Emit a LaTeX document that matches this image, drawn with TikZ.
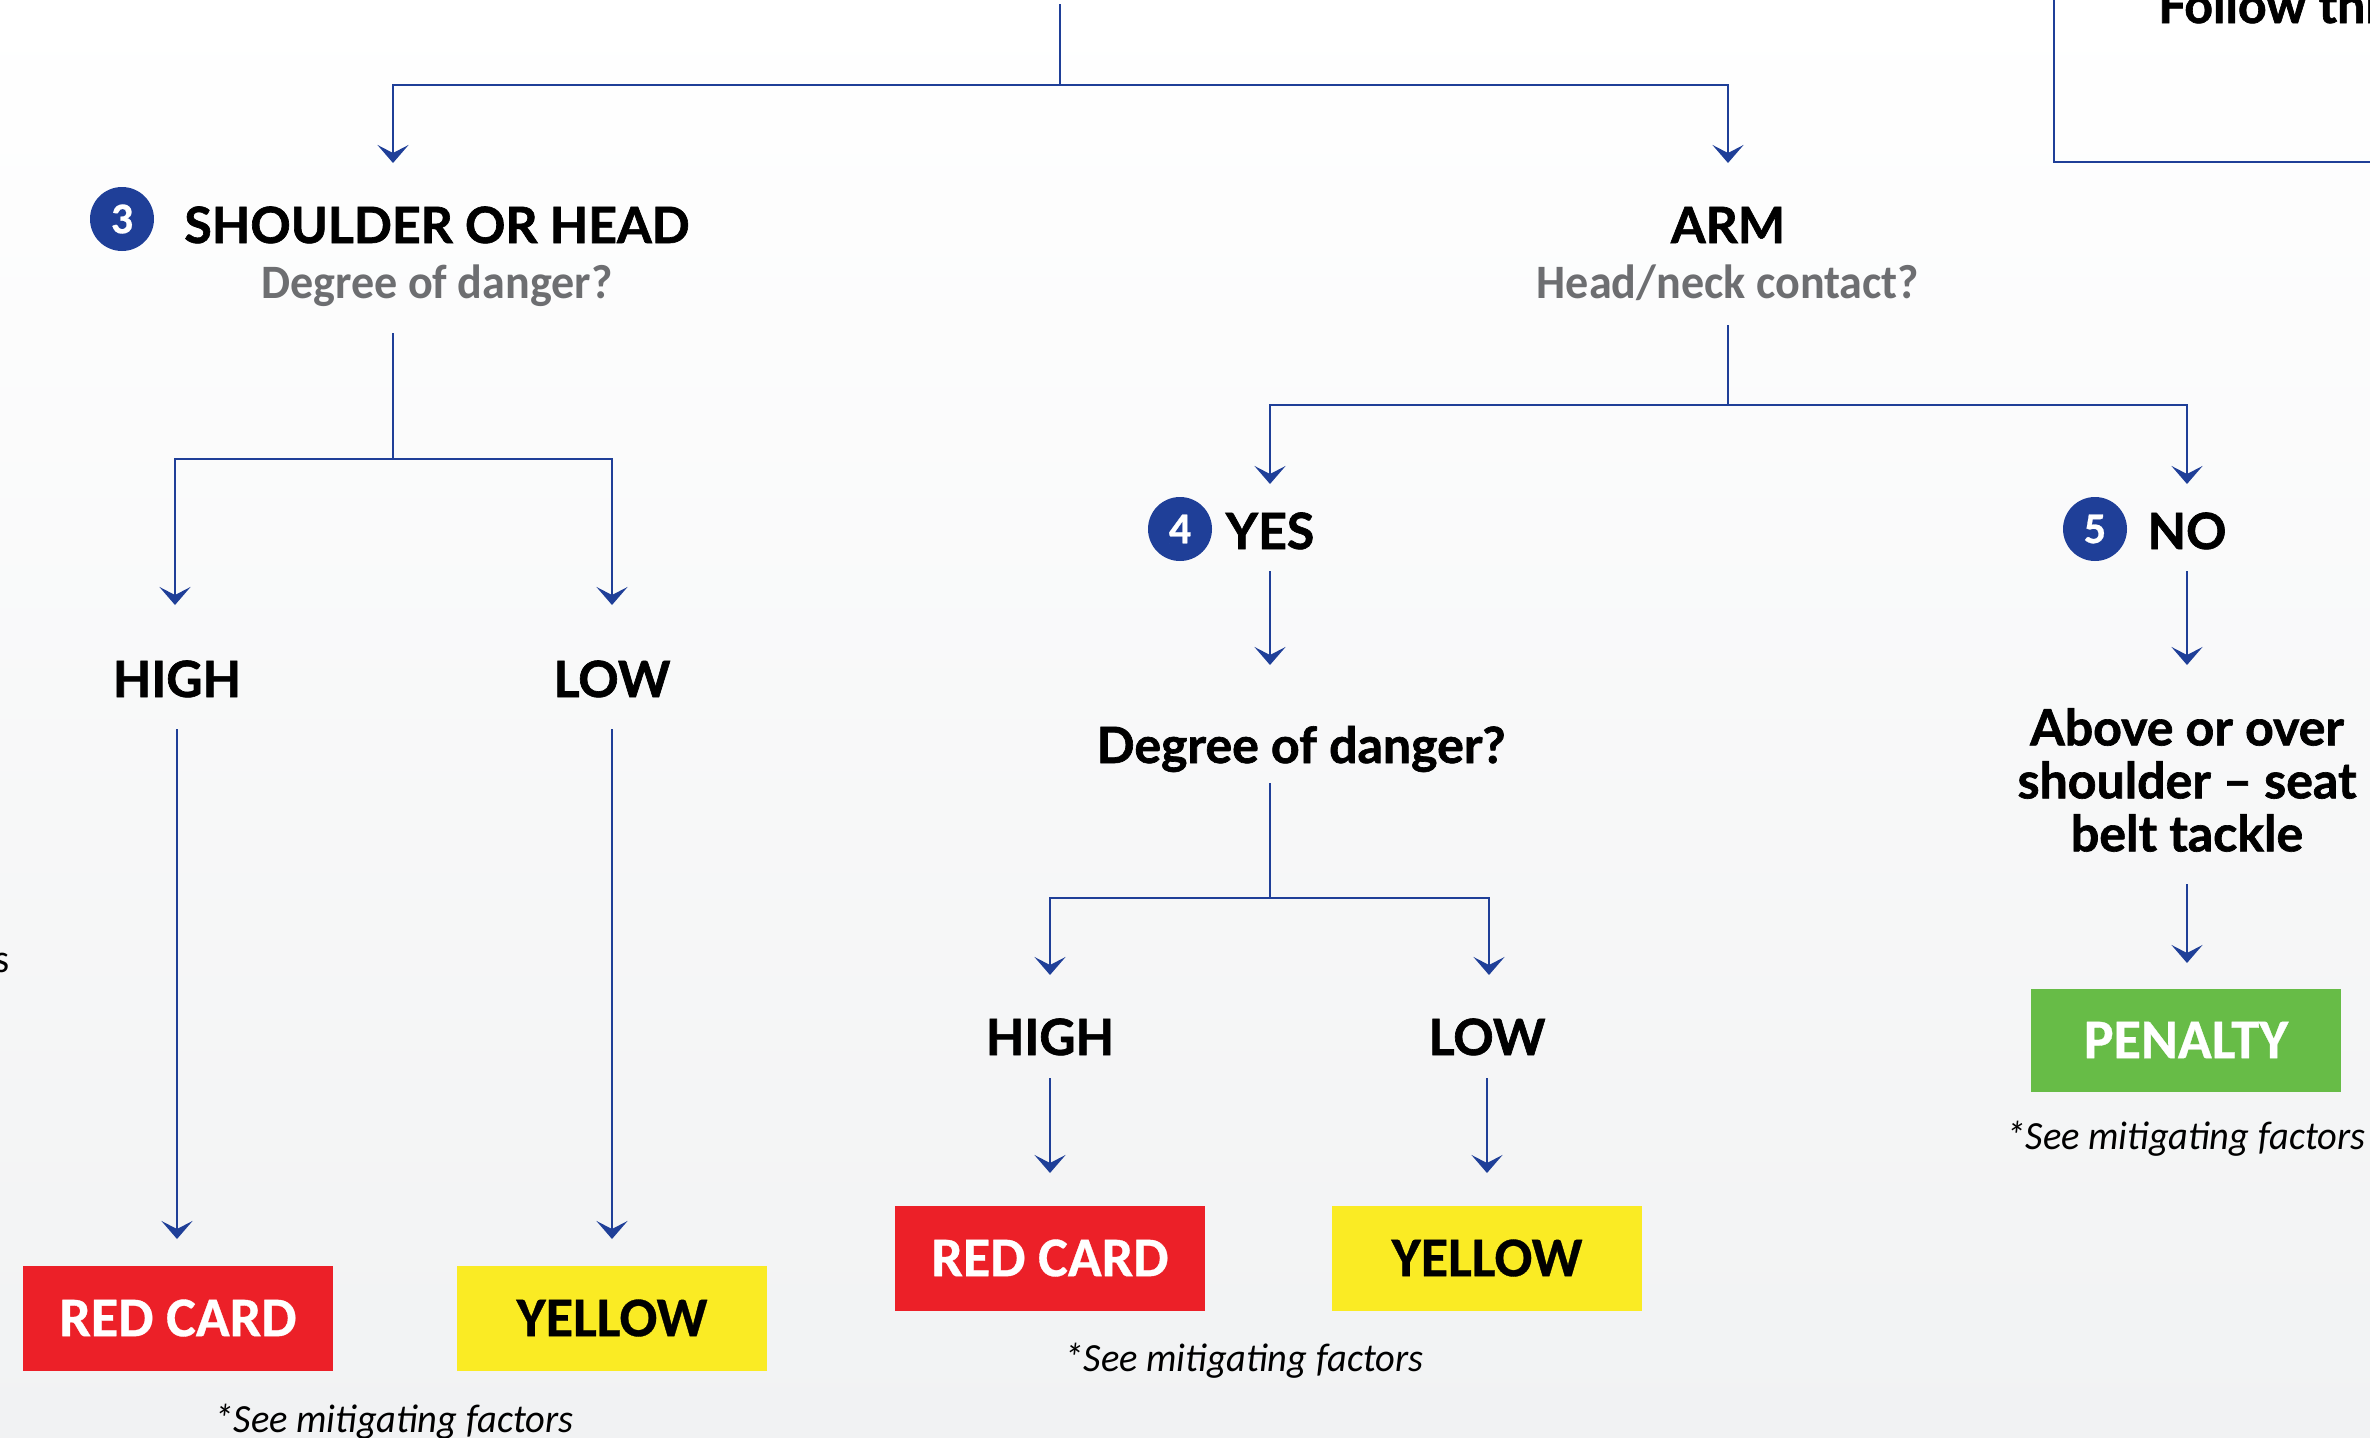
\documentclass[tikz,border=0pt]{standalone}
\usepackage{fontspec}
\setmainfont{Lato}
\newfontfamily\heavyfont{Lato}[BoldFeatures={FakeBold=1.3}]
\newfontfamily\condfont{Carlito}[FakeStretch=0.96]
\newfontfamily\cardfont{Carlito}[BoldFeatures={FakeBold=0.6}]
\usetikzlibrary{arrows.meta,calc}
\definecolor{rblue}{HTML}{1F3F98}
\definecolor{rred}{HTML}{EC2028}
\definecolor{ryellow}{HTML}{FAEB24}
\definecolor{rgreen}{HTML}{67BC47}
\definecolor{rgray}{HTML}{6D6E71}
\definecolor{bglow}{HTML}{F1F2F3}
\tikzset{
  conn/.style={draw=rblue, line width=2.8pt},
  arr/.style={conn, -{Stealth[length=18pt,width=31pt,inset=8pt]}},
  head/.style={font=\heavyfont\fontsize{50}{50}\selectfont\bfseries, text=black, inner sep=0pt, text height=36pt, text depth=0pt},
  sub/.style={font=\condfont\fontsize{48}{48}\selectfont\bfseries, text=rgray, inner sep=0pt, text height=34pt, text depth=0pt},
  badge/.style={circle, fill=rblue, minimum size=64pt, inner sep=0pt, text=white, font=\cardfont\fontsize{44}{44}\selectfont\bfseries},
  card/.style={minimum width=310pt, minimum height=105pt, inner sep=0pt, font=\cardfont\fontsize{56}{56}\selectfont\bfseries},
  note/.style={font=\condfont\fontsize{40}{40}\selectfont\itshape, inner sep=0pt, text height=28pt, text depth=0pt},
}
\begin{document}
\begin{tikzpicture}[x=1pt,y=-1pt]
\useasboundingbox (0,0) rectangle (2370,1438);
\clip (0,0) rectangle (2370,1438);
\shade[top color=white, bottom color=bglow] (0,0) rectangle (2370,1438);

% top-right box (cut by the picture's edge)
\draw[conn] (2054,-50) -- (2054,162) -- (2450,162);
\node[head, anchor=base west] (follow) at (2158,23) {Follow through};
% text fragment at the left edge
\node[font=\condfont\fontsize{40}{40}\selectfont, inner sep=0pt, anchor=base east] (sfrag) at (10,972) {s};

\coordinate (src) at (1060,4);
\coordinate (j0) at (1060,85);
\coordinate (tipS) at (393,163);
\coordinate (tipA) at (1728,163);
\draw[conn] (src) -- (j0);
\draw[arr] (j0) -| (tipS);
\draw[arr] (j0) -| (tipA);

% ---------- shoulder or head branch
\node[badge] (b3) at (122,219) {3};
\node[head] (shoulder) at (437,225) {SHOULDER OR HEAD};
\node[sub] (dd1) at (437,281) {Degree of danger?};
\coordinate (s1) at (393,333);
\coordinate (jL) at (393,459);
\coordinate (tipHL) at (175,605);
\coordinate (tipLL) at (612,605);
\draw[conn] (s1) -- (jL);
\draw[arr] (jL) -| (tipHL);
\draw[arr] (jL) -| (tipLL);
\node[head] (highL) at (177,679) {HIGH};
\node[head] (lowL) at (612,679) {LOW};
\node[card, fill=rred, text=white] (redL) at (178,1318) {RED CARD};
\node[card, fill=ryellow, text=black] (yelL) at (612,1318) {YELLOW};
\coordinate (sHL) at (177,729);
\coordinate (tHL) at (177,1239);
\coordinate (sLL) at (612,729);
\coordinate (tLL) at (612,1239);
\draw[arr] (sHL) -- (tHL);
\draw[arr] (sLL) -- (tLL);
\node[note] (noteL) at (394,1418) {*See mitigating factors};

% ---------- arm branch
\node[head] (arm) at (1728,225) {ARM};
\node[sub] (hn) at (1728,281) {Head/neck contact?};
\coordinate (s2) at (1728,325);
\coordinate (jA) at (1728,405);
\coordinate (tipY) at (1270,484);
\coordinate (tipN) at (2187,484);
\draw[conn] (s2) -- (jA);
\draw[arr] (jA) -| (tipY);
\draw[arr] (jA) -| (tipN);

\node[badge] (b4) at (1180,529) {4};
\node[head] (yes) at (1270,531) {YES};
\node[head] (dd2) at (1301,745) {Degree of danger?};
\coordinate (sY) at (1270,571);
\coordinate (tY) at (1270,665);
\draw[arr] (sY) -- (tY);
\coordinate (s3) at (1270,783);
\coordinate (jD) at (1270,898);
\coordinate (tipHM) at (1050,975);
\coordinate (tipLM) at (1489,975);
\draw[conn] (s3) -- (jD);
\draw[arr] (jD) -| (tipHM);
\draw[arr] (jD) -| (tipLM);
\node[head] (highM) at (1050,1037) {HIGH};
\node[head] (lowM) at (1487,1037) {LOW};
\node[card, fill=rred, text=white] (redM) at (1050,1258) {RED CARD};
\node[card, fill=ryellow, text=black] (yelM) at (1487,1258) {YELLOW};
\coordinate (sHM) at (1050,1078);
\coordinate (tHM) at (1050,1173);
\coordinate (sLM) at (1487,1078);
\coordinate (tLM) at (1487,1173);
\draw[arr] (sHM) -- (tHM);
\draw[arr] (sLM) -- (tLM);
\node[note] (noteM) at (1244,1357) {*See mitigating factors};

% ---------- no branch
\node[badge] (b5) at (2095,529) {5};
\node[head] (no) at (2187,531) {NO};
\coordinate (sN) at (2187,571);
\coordinate (tN) at (2187,665);
\draw[arr] (sN) -- (tN);
\node[font=\heavyfont\fontsize{50}{53}\selectfont\bfseries, align=center, inner sep=0pt] (above) at (2187,780) {Above or over\\shoulder – seat\\belt tackle};
\coordinate (sP) at (2187,884);
\coordinate (tP) at (2187,963);
\draw[arr] (sP) -- (tP);
\node[card, fill=rgreen, text=white, minimum height=103pt] (pen) at (2186,1040) {PENALTY};
\node[note] (noteR) at (2186,1135) {*See mitigating factors};
\end{tikzpicture}
\end{document}
